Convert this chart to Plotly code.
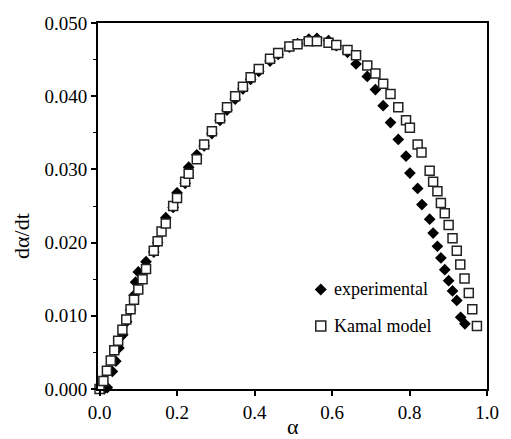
import plotly.graph_objects as go

# Kamal model (open squares)
model_x = [0.000, 0.010, 0.019, 0.029, 0.038, 0.048, 0.059, 0.069, 0.080, 0.089,
           0.100, 0.111, 0.120, 0.140, 0.150, 0.160, 0.171, 0.190, 0.200, 0.221,
           0.230, 0.251, 0.270, 0.290, 0.311, 0.329, 0.350, 0.370, 0.390, 0.411,
           0.440, 0.461, 0.490, 0.511, 0.540, 0.561, 0.591, 0.611, 0.640, 0.662,
           0.691, 0.712, 0.732, 0.751, 0.771, 0.791, 0.801, 0.821, 0.831, 0.852,
           0.861, 0.872, 0.881, 0.891, 0.901, 0.911, 0.922, 0.931, 0.942, 0.953,
           0.962, 0.974]
model_y = [0.0000, 0.0011, 0.0025, 0.0039, 0.0053, 0.0066, 0.0081, 0.0095, 0.0109, 0.0122,
           0.0136, 0.0150, 0.0164, 0.0189, 0.0202, 0.0215, 0.0226, 0.0250, 0.0261, 0.0283,
           0.0294, 0.0314, 0.0334, 0.0352, 0.0370, 0.0385, 0.0400, 0.0413, 0.0426, 0.0437,
           0.0451, 0.0459, 0.0468, 0.0471, 0.0475, 0.0475, 0.0473, 0.0470, 0.0463, 0.0456,
           0.0442, 0.0431, 0.0417, 0.0403, 0.0385, 0.0367, 0.0357, 0.0334, 0.0323, 0.0298,
           0.0283, 0.0270, 0.0254, 0.0240, 0.0224, 0.0206, 0.0189, 0.0170, 0.0151, 0.0131,
           0.0109, 0.0086]

# Experimental (filled diamonds)
exp_x = [0.012, 0.020, 0.033, 0.042, 0.050, 0.060, 0.070, 0.080, 0.089, 0.093,
         0.100, 0.120, 0.140, 0.150, 0.171, 0.190, 0.200, 0.221, 0.230, 0.251,
         0.270, 0.290, 0.311, 0.329, 0.350, 0.370, 0.390, 0.411, 0.440, 0.461,
         0.490, 0.511, 0.540, 0.561, 0.591, 0.611, 0.640, 0.662, 0.691, 0.712,
         0.732, 0.751, 0.771, 0.791, 0.801, 0.821, 0.832, 0.852, 0.861, 0.872,
         0.881, 0.891, 0.901, 0.911, 0.922, 0.932, 0.943]
exp_y = [0.0000, 0.0002, 0.0024, 0.0038, 0.0056, 0.0074, 0.0092, 0.0108, 0.0128, 0.0146,
         0.0160, 0.0174, 0.0187, 0.0200, 0.0234, 0.0248, 0.0268, 0.0281, 0.0303, 0.0320,
         0.0332, 0.0349, 0.0367, 0.0381, 0.0396, 0.0410, 0.0423, 0.0434, 0.0448, 0.0457,
         0.0467, 0.0472, 0.0478, 0.0479, 0.0476, 0.0469, 0.0460, 0.0444, 0.0427, 0.0409,
         0.0387, 0.0364, 0.0341, 0.0318, 0.0295, 0.0274, 0.0252, 0.0232, 0.0213, 0.0195,
         0.0179, 0.0163, 0.0148, 0.0134, 0.0121, 0.0098, 0.0089]

x_ticks = [0.0, 0.2, 0.4, 0.6, 0.8, 1.0]
y_ticks = [0.000, 0.010, 0.020, 0.030, 0.040, 0.050]

FONT = "Times New Roman, Liberation Serif, serif"

fig = go.Figure()
fig.add_trace(go.Scatter(
    x=exp_x, y=exp_y, mode="markers", name="experimental",
    marker=dict(symbol="diamond", size=9, color="black"),
    cliponaxis=False, showlegend=False))
fig.add_trace(go.Scatter(
    x=model_x, y=model_y, mode="markers", name="Kamal model",
    marker=dict(symbol="square", size=9, color="white",
                line=dict(color="#222222", width=1.5)),
    cliponaxis=False, showlegend=False))

axis_common = dict(
    showline=True, linecolor="black", linewidth=2, mirror=True,
    ticks="outside", ticklen=5, tickwidth=1.5, tickcolor="black",
    showgrid=False, zeroline=False,
    tickfont=dict(family=FONT, size=19, color="black"),
)

fig.update_xaxes(range=[-0.004, 1.0], tickvals=x_ticks, tickformat=".1f", **axis_common)
fig.update_yaxes(range=[0, 0.05], tickvals=y_ticks, tickformat=".3f",
                 minor=dict(dtick=0.005, ticks="outside", ticklen=3, tickwidth=1.2,
                            tickcolor="black"),
                 **axis_common)

# plot area in pixels: x 98..497, y 23..389
def px(q):
    return (q - 98) / 399.0

def py(p):
    return (389 - p) / 366.0

annotations = [
    dict(text="α", x=0.5, y=py(427), xref="paper", yref="paper",
         xanchor="center", yanchor="middle", showarrow=False,
         font=dict(family=FONT, size=22, color="black")),
    dict(text="dα/dt", x=px(19), y=py(236), xref="paper", yref="paper",
         xanchor="center", yanchor="middle", textangle=-90, showarrow=False,
         font=dict(family=FONT, size=22, color="black")),
    dict(text="experimental", x=px(338), y=py(289), xref="paper", yref="paper",
         xanchor="left", yanchor="middle", showarrow=False,
         font=dict(family=FONT, size=18, color="black")),
    dict(text="Kamal model", x=px(338), y=py(326), xref="paper", yref="paper",
         xanchor="left", yanchor="middle", showarrow=False,
         font=dict(family=FONT, size=18, color="black")),
]

shapes = [
    dict(type="path", xref="paper", yref="paper", xsizemode="pixel", ysizemode="pixel",
         xanchor=px(326.5), yanchor=py(289.5),
         path="M -6 0 L 0 6 L 6 0 L 0 -6 Z",
         fillcolor="black", line=dict(color="black", width=0)),
    dict(type="rect", xref="paper", yref="paper", xsizemode="pixel", ysizemode="pixel",
         xanchor=px(326.5), yanchor=py(326),
         x0=-5, x1=5, y0=-5, y1=5,
         fillcolor="white", line=dict(color="#222222", width=1.5)),
]

fig.update_layout(
    width=511, height=439, autosize=False,
    margin=dict(l=98, r=14, t=23, b=50),
    paper_bgcolor="white", plot_bgcolor="white",
    font=dict(family=FONT, color="black"),
    annotations=annotations, shapes=shapes,
    showlegend=False,
)

fig.write_html("out.html")
